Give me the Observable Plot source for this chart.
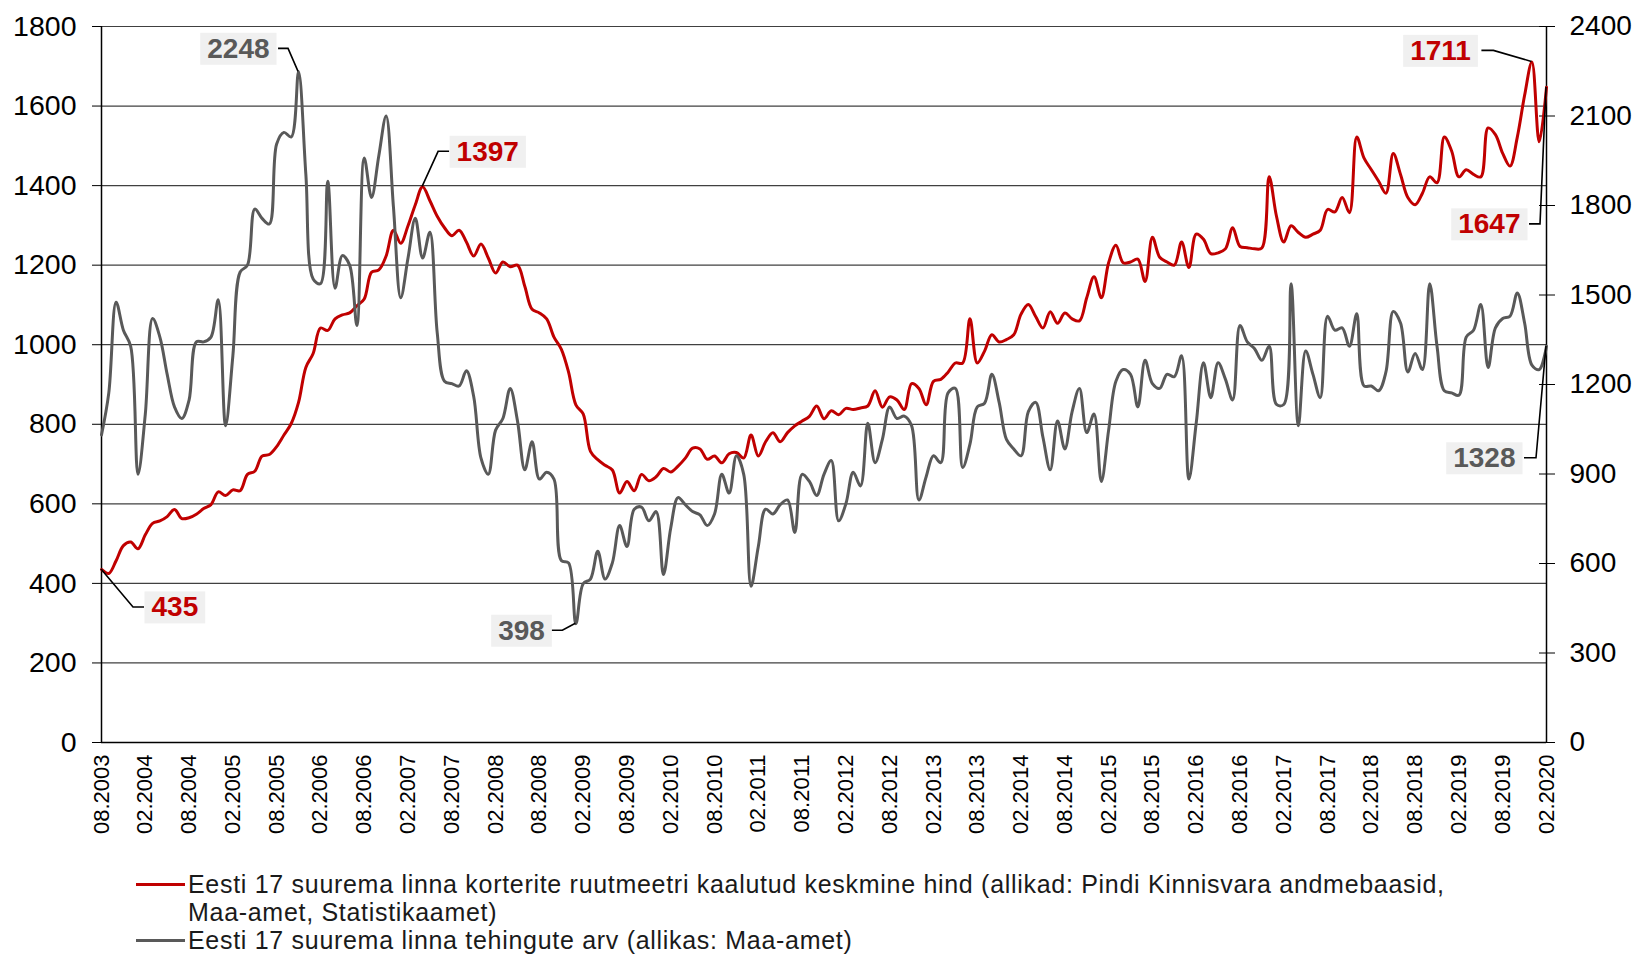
<!DOCTYPE html>
<html>
<head>
<meta charset="utf-8">
<script src="https://cdn.jsdelivr.net/npm/d3@7"></script>
<script src="https://cdn.jsdelivr.net/npm/@observablehq/plot@0.6"></script>
<style>
  html, body { margin: 0; padding: 0; background: #fff; }
  body { width: 1640px; height: 955px; overflow: hidden; font-family: "Liberation Sans", Arial, sans-serif; }
  #wrap { position: relative; width: 1640px; height: 955px; }
  #chart { position: absolute; left: 0; top: 0; }
  #legend { position: absolute; left: 136px; top: 870px; font-size: 25px; letter-spacing: 0.7px; line-height: 28px; color: #1a1a1a; white-space: nowrap; }
  #legend .item { display: flex; align-items: flex-start; }
  #legend .swatch { display: inline-block; width: 49px; height: 3px; margin-top: 13px; margin-right: 3px; flex: none; }
</style>
</head>
<body>
<div id="wrap">
  <div id="chart"></div>
  <div id="legend"></div>
</div>
<script>
// ---------- data ----------
const tickLabels = ["08.2003","02.2004","08.2004","02.2005","08.2005","02.2006","08.2006","02.2007","08.2007","02.2008","08.2008","02.2009","08.2009","02.2010","08.2010","02.2011","08.2011","02.2012","08.2012","02.2013","08.2013","02.2014","08.2014","02.2015","08.2015","02.2016","08.2016","02.2017","08.2017","02.2018","08.2018","02.2019","08.2019","02.2020"];

// monthly weighted average price per m2 (left axis), 08.2003 .. 02.2020
const price = [
  435,425,457,495,504,487,522,551,557,568,
  586,563,565,574,588,598,630,621,635,633,
  674,682,720,724,744,773,802,855,943,978,
  1042,1036,1065,1075,1080,1098,1115,1182,1188,1223,
  1288,1255,1299,1352,1397,1362,1323,1294,1274,1288,
  1258,1223,1253,1218,1180,1208,1196,1200,1147,1089,
  1080,1065,1019,989,931,849,826,732,711,697,
  685,627,656,633,674,658,668,689,680,695,
  715,740,738,712,720,703,726,729,715,773,
  720,756,779,756,779,796,808,820,846,814,
  834,824,840,837,841,846,884,843,869,861,
  837,902,890,849,908,913,931,954,954,1065,
  954,984,1025,1007,1013,1025,1077,1101,1071,1042,
  1083,1054,1080,1065,1060,1118,1171,1118,1206,1250,
  1206,1208,1215,1159,1270,1220,1208,1200,1258,1194,
  1278,1265,1229,1231,1241,1294,1247,1244,1241,1243,
  1422,1323,1258,1299,1282,1270,1278,1288,1340,1334,
  1370,1332,1522,1469,1440,1411,1381,1481,1428,1370,
  1352,1381,1422,1407,1522,1487,1422,1440,1428,1422,
  1545,1528,1481,1449,1522,1627,1711,1510,1647
];

// monthly number of transactions (right axis)
const deals = [
  1031,1172,1476,1382,1328,899,1100,1421,1359,1234,
  1125,1086,1148,1343,1343,1359,1484,1062,1296,1577,
  1600,1788,1757,1738,2006,2045,2030,2248,1905,1554,
  1538,1881,1523,1632,1600,1398,1959,1827,1967,2100,
  1796,1491,1624,1757,1624,1710,1374,1211,1203,1195,
  1246,1160,953,899,1047,1086,1187,1078,914,1008,
  883,906,883,610,602,398,532,548,641,548,
  602,727,657,782,789,743,774,563,719,821,
  797,774,763,727,766,899,836,961,899,524,
  657,782,766,797,813,704,899,875,828,899,
  945,743,800,906,860,1070,938,1016,1125,1086,
  1094,1062,813,891,961,938,1172,1187,922,1000,
  1125,1137,1234,1140,1016,984,961,1109,1140,1023,
  914,1078,984,1109,1187,1039,1101,875,1047,1211,
  1250,1234,1125,1281,1203,1187,1234,1226,1296,883,
  1070,1273,1156,1273,1218,1148,1398,1343,1320,1281,
  1328,1133,1133,1538,1062,1312,1234,1156,1429,1382,
  1390,1328,1437,1195,1195,1179,1242,1445,1406,1242,
  1304,1250,1538,1328,1179,1172,1164,1359,1382,1468,
  1257,1390,1421,1429,1507,1406,1265,1250,1328
];

const leftTicks = [0,200,400,600,800,1000,1200,1400,1600,1800];
const rightTicks = [0,300,600,900,1200,1500,1800,2100,2400];

const seriesNames = [
  "Eesti 17 suurema linna korterite ruutmeetri kaalutud keskmine hind (allikad: Pindi Kinnisvara andmebaasid,\nMaa-amet, Statistikaamet)",
  "Eesti 17 suurema linna tehingute arv (allikas: Maa-amet)"
];

// labelled points: which series, which month index
const callouts = [
  {series: "price", i: 0},
  {series: "price", i: 44},
  {series: "price", i: 196},
  {series: "price", i: 198},
  {series: "deals", i: 27},
  {series: "deals", i: 65},
  {series: "deals", i: 198}
];

// ---------- styling / layout ----------
const RED = "#C00000", GREY = "#595959";
const ratio = 1800 / 2400; // right axis -> left axis
// pixel offsets of leader elbow, leader end and text from the labelled point
const calloutLayout = [
  {elbow: [32, 38],  end: [43, 38],  text: [50, 38],  anchor: "start"},
  {elbow: [16, -35], end: [27, -35], text: [34, -35], anchor: "start"},
  {elbow: [-38, -11],end: [-50, -11],text: [-61, -11],anchor: "end"},
  {elbow: [-6, 137], end: [-17, 137],text: [-26, 137],anchor: "end"},
  {elbow: [-10, -23],end: [-20, -23],text: [-29, -23],anchor: "end"},
  {elbow: [-13, 7],  end: [-24, 7],  text: [-31, 7],  anchor: "end"},
  {elbow: [-10, 112],end: [-22, 112],text: [-31, 112],anchor: "end"}
];

const rows = price.map((p, i) => ({i, price: p, deals: deals[i]}));
const valueOf = c => c.series === "price" ? price[c.i] : deals[c.i];
const yOf = c => c.series === "price" ? price[c.i] : deals[c.i] * ratio;
const colorOf = c => c.series === "price" ? RED : GREY;
const xTicks = d3.range(0, price.length, 6);

const plot = Plot.plot({
  width: 1640,
  height: 850,
  marginLeft: 101,
  marginRight: 94,
  marginTop: 26,
  marginBottom: 108,
  style: {fontFamily: '"Liberation Sans", Arial, sans-serif', color: "#000", background: "transparent"},
  x: {type: "linear", domain: [0, price.length - 1]},
  y: {domain: [0, 1800]},
  marks: [
    Plot.gridY(leftTicks.filter(t => t > 0), {stroke: "#404040", strokeOpacity: 1, strokeWidth: 1.2}),
    Plot.axisY({anchor: "left", ticks: leftTicks, tickFormat: d3.format("d"), tickSize: 9, tickPadding: 16, fontSize: 28.5, label: null, stroke: "#000"}),
    Plot.axisY({anchor: "right", ticks: rightTicks.map(t => t * ratio), tickFormat: d => String(Math.round(d / ratio)), tickSize: 8, tickPadding: 15, fontSize: 28, label: null, stroke: "#000"}),
    Plot.axisY({anchor: "right", ticks: rightTicks.map(t => t * ratio), tickFormat: () => "", tickSize: 8, dx: -8, label: null, stroke: "#000"}),
    Plot.axisX({ticks: xTicks, tickFormat: i => tickLabels[i / 6], tickRotate: -90, tickSize: 0, tickPadding: 12, fontSize: 22, label: null}),
    Plot.ruleY([0], {stroke: "#000", strokeWidth: 1.5}),
    Plot.ruleX([0, price.length - 1], {stroke: "#000", strokeWidth: 1.5}),
    Plot.line(rows, {x: "i", y: "price", curve: "catmull-rom", stroke: RED, strokeWidth: 3, strokeLinejoin: "round"}),
    Plot.line(rows, {x: "i", y: d => d.deals * ratio, curve: "catmull-rom", stroke: GREY, strokeWidth: 3, strokeLinejoin: "round"}),
    ...callouts.map((c, j) => Plot.text([c], {
      x: "i", y: yOf, text: d => String(valueOf(d)),
      dx: calloutLayout[j].text[0], dy: calloutLayout[j].text[1],
      textAnchor: calloutLayout[j].anchor, fill: colorOf(c),
      fontSize: 28, fontWeight: "bold"
    }))
  ]
});

document.getElementById("chart").append(plot);

// callout boxes and leader lines, positioned through the plot's scales
const xs = plot.scale("x"), ys = plot.scale("y");
const NS = "http://www.w3.org/2000/svg";
const textGroups = [...plot.querySelectorAll('g[aria-label="text"]')];
const leaderG = document.createElementNS(NS, "g");
if (textGroups.length) textGroups[0].parentNode.insertBefore(leaderG, textGroups[0]);
callouts.forEach((c, j) => {
  const L = calloutLayout[j];
  const px = xs.apply(c.i), py = ys.apply(yOf(c));
  const path = document.createElementNS(NS, "path");
  path.setAttribute("d", `M${px},${py}L${px + L.elbow[0]},${py + L.elbow[1]}L${px + L.end[0]},${py + L.end[1]}`);
  path.setAttribute("fill", "none");
  path.setAttribute("stroke", "#000");
  path.setAttribute("stroke-width", "1.6");
  leaderG.append(path);
  const g = textGroups[j];
  if (!g) return;
  const t = g.querySelector("text");
  const bb = t.getBBox();
  const ctm = t.getAttribute("transform");
  const rect = document.createElementNS(NS, "rect");
  rect.setAttribute("x", bb.x - 7);
  rect.setAttribute("y", bb.y);
  rect.setAttribute("width", bb.width + 14);
  rect.setAttribute("height", bb.height + 1);
  rect.setAttribute("fill", "#F0F0F0");
  if (ctm) rect.setAttribute("transform", ctm);
  g.insertBefore(rect, t);
});

// legend
const legend = document.getElementById("legend");
[[seriesNames[0], RED], [seriesNames[1], GREY]].forEach(([name, col]) => {
  const item = document.createElement("div");
  item.className = "item";
  const sw = document.createElement("span");
  sw.className = "swatch";
  sw.style.background = col;
  const tx = document.createElement("span");
  name.split("\n").forEach((line, k) => {
    if (k) tx.append(document.createElement("br"));
    tx.append(document.createTextNode(line));
  });
  item.append(sw, tx);
  legend.append(item);
});
</script>
</body>
</html>
